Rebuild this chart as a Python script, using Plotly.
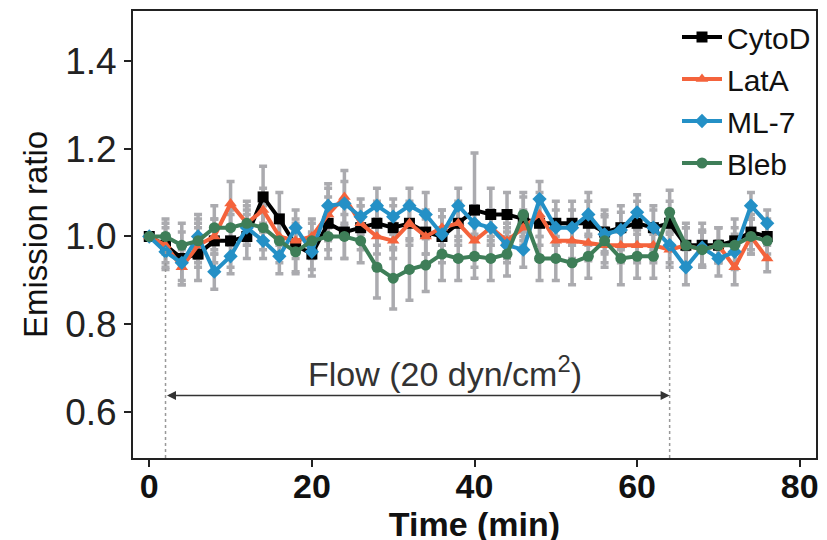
###############################################
# Emission ratio under flow, four inhibitors  #
###############################################

import plotly.graph_objects as go

# time points (min)
time = list(range(0, 78, 2))

# emission ratio per treatment
cytod = [1.00, 0.98, 0.95, 0.96, 0.99, 0.99, 1.00, 1.09, 1.04, 0.98,
         0.96, 1.03, 1.01, 1.02, 1.03, 1.02, 1.03, 1.01, 1.00, 1.03,
         1.06, 1.05, 1.05, 1.04, 1.03, 1.03, 1.03, 1.03, 1.01, 1.02,
         1.03, 1.02, 1.03, 0.98, 0.98, 0.98, 0.99, 1.01, 1.00]
lata = [1.00, 0.98, 0.93, 0.98, 1.00, 1.075, 1.03, 1.06, 1.00, 0.99,
        1.00, 1.05, 1.09, 1.03, 1.00, 0.99, 1.03, 1.00, 1.02, 1.03,
        0.99, 1.02, 0.99, 1.02, 1.05, 0.99, 0.99, 0.985, 0.98, 0.98,
        0.98, 0.98, 0.97, 0.98, 0.97, 0.98, 0.93, 1.00, 0.95]
ml7 = [1.00, 0.965, 0.94, 1.00, 0.92, 0.955, 1.02, 0.99, 0.955, 1.02,
       0.965, 1.07, 1.075, 1.045, 1.07, 1.045, 1.07, 1.05, 1.005, 1.07,
       1.03, 1.02, 0.98, 0.97, 1.085, 1.02, 1.02, 1.05, 1.005, 1.015,
       1.055, 1.02, 0.98, 0.93, 0.975, 0.95, 0.965, 1.07, 1.03]
bleb = [1.00, 1.00, 0.98, 0.99, 1.02, 1.02, 1.03, 1.02, 0.99, 0.965,
        0.99, 1.00, 1.00, 0.99, 0.93, 0.905, 0.925, 0.935, 0.96, 0.95,
        0.955, 0.95, 0.96, 1.05, 0.95, 0.95, 0.94, 0.955, 0.99, 0.95,
        0.955, 0.955, 1.055, 0.98, 0.97, 0.98, 0.98, 1.00, 0.99]

# standard errors
cytod_err = [0.00, 0.05, 0.06, 0.06, 0.05, 0.06, 0.05, 0.07, 0.06, 0.06,
             0.05, 0.06, 0.06, 0.05, 0.05, 0.05, 0.05, 0.05, 0.06, 0.05,
             0.13, 0.06, 0.05, 0.05, 0.05, 0.05, 0.05, 0.05, 0.05, 0.05,
             0.05, 0.05, 0.05, 0.05, 0.05, 0.04, 0.05, 0.04, 0.04]
lata_err = [0.00, 0.04, 0.04, 0.05, 0.04, 0.05, 0.04, 0.05, 0.04, 0.04,
            0.04, 0.06, 0.06, 0.04, 0.04, 0.04, 0.04, 0.04, 0.04, 0.04,
            0.04, 0.04, 0.04, 0.04, 0.05, 0.04, 0.04, 0.04, 0.04, 0.04,
            0.04, 0.04, 0.04, 0.04, 0.04, 0.04, 0.04, 0.04, 0.03]
ml7_err = [0.00, 0.04, 0.04, 0.05, 0.04, 0.04, 0.04, 0.04, 0.04, 0.04,
           0.04, 0.05, 0.05, 0.04, 0.04, 0.04, 0.04, 0.05, 0.04, 0.04,
           0.04, 0.04, 0.04, 0.04, 0.04, 0.04, 0.04, 0.05, 0.04, 0.04,
           0.04, 0.04, 0.04, 0.04, 0.04, 0.04, 0.04, 0.03, 0.03]
bleb_err = [0.00, 0.04, 0.05, 0.05, 0.05, 0.04, 0.05, 0.05, 0.05, 0.05,
            0.04, 0.05, 0.05, 0.05, 0.07, 0.07, 0.07, 0.06, 0.06, 0.05,
            0.05, 0.05, 0.05, 0.05, 0.05, 0.05, 0.05, 0.05, 0.06, 0.06,
            0.05, 0.05, 0.05, 0.04, 0.04, 0.04, 0.04, 0.04, 0.04]

series = [
    ('CytoD', cytod, cytod_err, '#000000', 'square'),
    ('LatA', lata, lata_err, '#F4633C', 'triangle-up'),
    ('ML-7', ml7, ml7_err, '#2490C6', 'diamond'),
    ('Bleb', bleb, bleb_err, '#3E7E58', 'circle'),
]

FONT = 'Liberation Sans, Arial, sans-serif'

fig = go.Figure()

# error bars drawn first, in grey, behind the lines
for name, vals, err, color, symbol in series:
    fig.add_trace(go.Scatter(x=time, y=vals, mode='markers',
                             marker=dict(size=1, color='rgba(0,0,0,0)'),
                             error_y=dict(type='data', array=err, color='#ABABAF',
                                          thickness=3.5, width=4),
                             showlegend=False, hoverinfo='skip'))

for name, vals, err, color, symbol in series:
    fig.add_trace(go.Scatter(x=time, y=vals, mode='lines+markers', name=name,
                             line=dict(color=color, width=4),
                             marker=dict(symbol=symbol, size=11, color=color)))

# flow period markers
for xv in [2, 64]:
    fig.add_shape(type='line', x0=xv, x1=xv, y0=0.496, y1=0.975,
                  line=dict(color='#999999', width=1.5, dash='dot'))
fig.add_annotation(x=64, y=0.638, ax=2, ay=0.638, xref='x', yref='y',
                   axref='x', ayref='y', text='', showarrow=True,
                   arrowhead=2, arrowside='end+start', arrowsize=1.2,
                   arrowwidth=1.5, arrowcolor='#333333')
fig.add_annotation(x=36.4, y=0.692, text='Flow (20 dyn/cm<sup>2</sup>)',
                   showarrow=False, font=dict(size=34, color='#333333'))

fig.update_layout(
    width=827, height=540,
    margin=dict(l=125, r=19, t=1, b=90),
    plot_bgcolor='white', paper_bgcolor='white',
    font=dict(family=FONT, color='#111111'),
    legend=dict(x=1.0, y=1.0, xanchor='right', yanchor='top',
                font=dict(size=30), bgcolor='rgba(255,255,255,0)',
                tracegroupgap=0, itemwidth=40),
)
fig.update_xaxes(range=[-2, 82], tickvals=[0, 20, 40, 60, 80],
                 ticks='outside', ticklen=7, tickwidth=2, tickcolor='#222',
                 ticklabelstandoff=-10,
                 showline=True, linecolor='#222', linewidth=2, mirror=True,
                 showgrid=False, zeroline=False,
                 tickfont=dict(size=34, family=FONT, color='#111', weight='bold'),
                 title=dict(text='Time (min)', standoff=2,
                            font=dict(size=34, family=FONT, weight='bold')))
fig.update_yaxes(range=[0.496, 1.513], tickvals=[0.6, 0.8, 1.0, 1.2, 1.4],
                 tickformat='.1f',
                 ticks='outside', ticklen=7, tickwidth=2, tickcolor='#222',
                 showline=True, linecolor='#222', linewidth=2, mirror=True,
                 showgrid=False, zeroline=False,
                 tickfont=dict(size=37, color='#222'),
                 title=dict(text='Emission ratio', font=dict(size=33), standoff=8))

fig.write_html("out.html")
